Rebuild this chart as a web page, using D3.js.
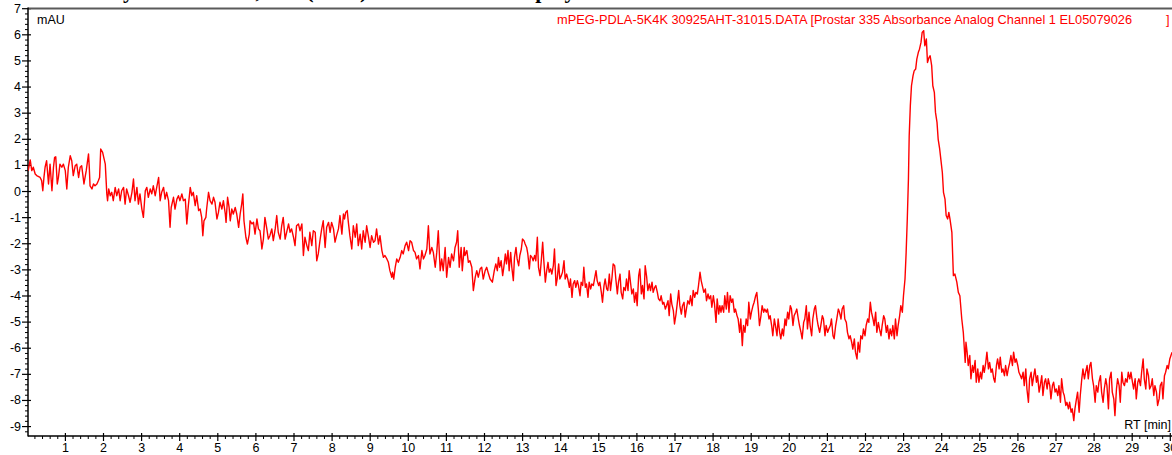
<!DOCTYPE html>
<html lang="en">
<head>
<meta charset="UTF-8">
<title>mPEG-PDLA-5K4K chromatogram</title>
<script src="https://d3js.org/d3.v7.min.js"></script>
<style>
  body { margin: 0; background: #fff; }
  svg { display: block; font-family: "Liberation Sans", Arial, sans-serif; }
  .tick text { font-size: 12.5px; fill: #000; }
</style>
</head>
<body>
<div id="chart"></div>
<script>
// page heading (mostly cut off above the chart)
const heading = "UV Analysis at 335 nm, run (GPC) results for the Copolymer";
const traceLabel = "mPEG-PDLA-5K4K 30925AHT-31015.DATA [Prostar 335 Absorbance Analog Channel 1 EL05079026";
const yUnit = "mAU";
const xUnit = "RT [min]";

const xMajor = d3.range(1, 31);
const yMajor = d3.range(-9, 8);

// [retention time (min), absorbance (mAU)]
const trace = [
  [0.00,0.97],[0.04,0.80],[0.09,1.19],[0.13,0.78],[0.17,0.91],[0.22,0.65],[0.26,0.59],[0.35,0.52],[0.39,0.40],[0.42,0.01],
  [0.45,0.52],[0.48,0.91],[0.52,1.16],[0.57,0.27],[0.61,1.03],[0.66,0.01],[0.70,0.91],[0.73,1.29],[0.76,1.31],[0.80,0.27],
  [0.83,0.52],[0.87,1.03],[0.92,0.91],[0.96,1.03],[1.01,0.78],[1.05,0.08],[1.09,0.91],[1.14,1.35],[1.18,1.16],[1.22,0.59],
  [1.27,0.97],[1.31,1.03],[1.36,0.52],[1.40,0.91],[1.44,0.97],[1.49,0.40],[1.50,0.27],[1.56,0.78],[1.62,1.42],[1.64,0.91],
  [1.66,0.20],[1.71,0.08],[1.75,0.27],[1.79,0.20],[1.84,0.27],[1.88,0.40],[1.91,0.52],[1.94,1.61],[1.99,1.48],[2.03,1.22],
  [2.06,1.03],[2.10,-0.11],[2.12,-0.37],[2.15,0.08],[2.19,-0.18],[2.23,-0.05],[2.27,-0.37],[2.32,0.14],[2.36,-0.18],[2.41,0.08],
  [2.45,-0.37],[2.49,0.01],[2.54,0.14],[2.58,-0.50],[2.62,0.08],[2.67,-0.18],[2.71,-0.43],[2.76,-0.05],[2.80,0.46],[2.84,-0.37],
  [2.89,0.14],[2.93,-0.50],[2.97,-0.11],[3.02,-0.69],[3.06,-1.01],[3.11,0.01],[3.15,0.14],[3.19,-0.24],[3.24,0.08],[3.28,-0.11],
  [3.32,0.20],[3.37,-0.18],[3.41,0.14],[3.46,0.52],[3.50,-0.37],[3.54,-0.05],[3.59,0.14],[3.63,-0.31],[3.67,-0.05],[3.72,-0.37],
  [3.76,-1.39],[3.79,-0.63],[3.85,-0.24],[3.89,-0.69],[3.94,-0.31],[3.98,-0.18],[4.02,-0.37],[4.07,-0.11],[4.11,-0.37],[4.16,-0.31],
  [4.20,-1.26],[4.24,-0.56],[4.29,0.14],[4.33,-0.18],[4.37,-0.05],[4.42,-0.56],[4.46,-0.18],[4.51,-0.75],[4.55,-0.69],[4.59,-1.01],
  [4.62,-1.71],[4.65,-1.14],[4.70,-1.01],[4.72,-0.69],[4.77,-0.05],[4.81,-0.37],[4.86,-0.50],[4.90,-0.24],[4.94,-0.43],[4.99,-1.07],
  [5.03,-0.82],[5.07,-0.43],[5.12,-0.69],[5.16,-0.37],[5.21,-0.88],[5.23,-1.20],[5.27,-0.24],[5.31,-0.63],[5.34,-1.14],[5.38,-0.69],
  [5.42,-0.88],[5.47,-0.63],[5.51,-0.88],[5.56,-1.39],[5.60,-0.88],[5.64,-0.50],[5.67,-0.11],[5.70,-1.14],[5.75,-1.77],[5.79,-2.03],
  [5.84,-1.65],[5.86,-1.14],[5.91,-1.26],[5.95,-1.20],[5.99,-1.65],[6.04,-1.07],[6.08,-1.45],[6.12,-1.52],[6.15,-1.90],
  [6.17,-2.22],[6.21,-1.84],[6.25,-1.01],[6.30,-1.45],[6.34,-1.84],[6.38,-1.71],[6.43,-1.45],[6.47,-1.90],[6.52,-1.45],[6.56,-0.94],
  [6.60,-1.58],[6.65,-1.84],[6.69,-1.33],[6.73,-1.01],[6.78,-1.84],[6.82,-1.58],[6.87,-1.26],[6.91,-1.58],[6.95,-1.45],[7.00,-1.77],
  [7.04,-2.09],[7.08,-1.33],[7.13,-1.26],[7.17,-1.52],[7.22,-1.26],[7.26,-2.47],[7.30,-1.77],[7.35,-2.09],[7.39,-2.28],[7.43,-1.58],
  [7.48,-2.09],[7.52,-1.52],[7.57,-1.58],[7.61,-2.67],[7.65,-2.41],[7.70,-1.84],[7.74,-1.45],[7.78,-1.14],[7.83,-2.16],[7.87,-1.39],
  [7.92,-1.20],[7.96,-1.58],[8.00,-1.20],[8.05,-1.45],[8.09,-1.96],[8.13,-1.71],[8.18,-1.45],[8.22,-0.94],[8.27,-1.65],[8.31,-0.88],
  [8.34,-1.07],[8.37,-0.82],[8.41,-0.75],[8.44,-1.20],[8.48,-1.71],[8.53,-2.22],[8.57,-1.33],[8.62,-1.77],[8.66,-1.26],[8.70,-2.09],
  [8.75,-1.65],[8.79,-2.22],[8.83,-1.52],[8.88,-1.96],[8.92,-1.33],[8.97,-1.77],[9.01,-2.16],[9.05,-1.71],[9.10,-1.96],[9.14,-1.90],
  [9.18,-1.45],[9.23,-2.03],[9.27,-1.71],[9.32,-2.28],[9.36,-2.54],[9.40,-2.47],[9.45,-2.60],[9.49,-2.73],[9.53,-3.05],[9.58,-3.30],
  [9.60,-3.11],[9.63,-3.37],[9.67,-2.92],[9.71,-2.60],[9.75,-2.73],[9.80,-2.54],[9.84,-2.28],[9.88,-2.41],[9.93,-2.09],[9.97,-1.96],
  [10.02,-2.28],[10.06,-1.90],[10.10,-1.96],[10.15,-2.28],[10.19,-2.35],[10.23,-2.60],[10.28,-2.47],[10.32,-2.98],[10.37,-2.28],[10.41,-2.60],
  [10.45,-2.47],[10.50,-2.22],[10.54,-1.33],[10.58,-2.41],[10.63,-2.16],[10.67,-2.35],[10.72,-2.92],[10.76,-2.35],[10.80,-1.52],[10.85,-3.05],
  [10.89,-2.60],[10.93,-3.05],[10.98,-2.16],[11.02,-3.30],[11.07,-2.54],[11.11,-2.92],[11.15,-2.41],[11.20,-2.67],[11.24,-2.16],[11.28,-1.96],
  [11.31,-1.52],[11.35,-2.92],[11.40,-2.16],[11.43,-3.05],[11.48,-2.16],[11.50,-2.47],[11.55,-2.28],[11.59,-2.73],[11.63,-2.67],[11.68,-2.92],
  [11.72,-3.81],[11.77,-3.30],[11.81,-3.05],[11.85,-3.30],[11.90,-2.98],[11.94,-2.92],[11.98,-3.37],[12.03,-3.05],[12.07,-2.92],[12.12,-3.18],
  [12.16,-3.37],
  [12.22,-3.49],[12.27,-3.05],[12.31,-2.79],[12.35,-3.05],[12.38,-2.54],[12.41,-2.92],[12.45,-2.67],[12.49,-3.24],[12.52,-2.92],[12.56,-2.41],
  [12.59,-2.79],[12.63,-2.28],[12.66,-3.05],[12.70,-2.35],[12.73,-2.92],[12.77,-3.43],[12.80,-2.54],[12.84,-2.16],[12.87,-2.60],[12.91,-2.86],
  [12.94,-2.47],[12.98,-2.22],[13.01,-1.84],[13.05,-1.90],[13.08,-2.03],[13.12,-2.16],[13.15,-2.41],[13.19,-2.98],[13.22,-2.47],[13.26,-2.54],
  [13.29,-2.67],[13.33,-2.47],[13.36,-2.67],[13.40,-1.77],[13.43,-2.92],[13.47,-3.24],[13.50,-2.73],[13.54,-1.96],[13.57,-2.67],[13.61,-3.49],
  [13.64,-3.11],[13.68,-2.73],[13.71,-3.11],[13.75,-2.98],[13.78,-3.18],[13.82,-2.86],[13.85,-2.22],[13.89,-3.62],[13.92,-3.37],[13.96,-2.79],
  [13.99,-3.37],[14.03,-3.24],[14.06,-3.11],[14.10,-2.67],[14.13,-3.37],[14.17,-3.18],[14.20,-3.37],[14.24,-3.69],[14.27,-3.37],[14.31,-4.07],
  [14.34,-3.56],[14.38,-3.43],[14.41,-3.69],[14.45,-3.43],[14.48,-3.62],[14.52,-4.01],[14.55,-3.49],[14.59,-3.62],[14.62,-2.92],[14.66,-3.69],
  [14.69,-3.56],[14.73,-4.07],[14.76,-3.49],[14.80,-3.75],[14.83,-3.56],[14.87,-3.62],[14.90,-3.37],[14.94,-3.05],[14.97,-3.43],[15.01,-3.62],
  [15.04,-3.49],[15.08,-3.88],[15.11,-4.26],[15.15,-3.62],[15.18,-3.37],[15.22,-3.75],[15.25,-3.81],[15.29,-3.18],[15.32,-3.81],[15.36,-3.30],
  [15.39,-2.79],[15.43,-2.86],[15.46,-3.37],[15.50,-3.94],[15.53,-3.49],[15.57,-3.18],[15.60,-3.88],[15.64,-4.13],[15.67,-3.69],[15.71,-3.81],
  [15.74,-3.37],[15.78,-3.81],[15.81,-3.05],[15.85,-3.56],[15.88,-3.94],[15.92,-3.75],[15.95,-4.26],[15.99,-3.88],[16.02,-4.39],[16.06,-3.24],
  [16.09,-2.98],[16.13,-3.94],[16.16,-3.62],[16.20,-4.13],[16.23,-2.86],[16.27,-3.30],[16.30,-3.81],[16.34,-3.56],[16.37,-3.81],[16.41,-3.49],
  [16.44,-3.88],[16.48,-3.69],[16.51,-3.62],[16.55,-3.88],[16.58,-4.13],[16.62,-4.20],[16.65,-4.01],[16.69,-4.33],[16.72,-4.26],[16.76,-4.52],
  [16.79,-4.39],[16.83,-4.20],[16.86,-4.77],[16.90,-3.94],[16.93,-4.33],[16.97,-4.58],[17.00,-5.09],[17.04,-4.71],[17.07,-4.33],[17.11,-3.81],
  [17.14,-4.39],[17.18,-4.71],[17.21,-4.39],[17.25,-4.26],[17.28,-4.83],[17.32,-4.45],[17.35,-4.20],[17.39,-4.33],[17.42,-4.01],[17.46,-4.39],
  [17.49,-3.81],[17.53,-4.07],[17.56,-3.88],[17.60,-3.94],[17.63,-3.62],[17.67,-3.11],[17.70,-3.43],[17.73,-3.62],[17.77,-3.88],[17.81,-3.75],
  [17.84,-4.20],[17.88,-3.94],[17.91,-4.13],[17.95,-4.01],[17.98,-4.45],[18.02,-4.01],[18.05,-4.33],[18.09,-5.03],[18.12,-4.13],[18.16,-4.71],
  [18.19,-4.39],
  [18.22,-4.64],[18.25,-4.39],[18.29,-4.64],[18.32,-4.01],[18.36,-4.52],[18.39,-3.88],[18.43,-4.64],[18.46,-4.01],[18.50,-4.26],[18.53,-4.13],
  [18.57,-4.64],[18.60,-4.52],[18.64,-4.77],[18.67,-4.90],[18.71,-5.41],[18.74,-4.90],[18.78,-5.92],[18.81,-5.15],[18.85,-5.41],[18.88,-4.90],
  [18.92,-5.15],[18.95,-4.26],[18.99,-4.90],[19.02,-4.64],[19.06,-4.39],[19.09,-4.26],[19.13,-4.01],[19.16,-3.88],[19.20,-4.52],[19.23,-5.15],
  [19.27,-4.77],[19.30,-4.39],[19.34,-4.64],[19.37,-4.52],[19.41,-4.64],[19.44,-4.52],[19.48,-4.90],[19.51,-4.77],[19.55,-5.15],[19.58,-5.54],
  [19.62,-4.90],[19.65,-5.15],[19.69,-5.54],[19.72,-4.90],[19.76,-5.41],[19.79,-5.66],[19.83,-5.28],[19.86,-5.54],[19.90,-4.90],[19.93,-5.15],
  [19.97,-4.64],[20.00,-4.90],[20.04,-4.39],[20.07,-4.52],[20.11,-5.15],[20.14,-4.77],[20.18,-4.64],[20.21,-4.52],[20.25,-4.90],[20.28,-5.15],
  [20.32,-5.41],[20.35,-5.66],[20.39,-5.03],[20.42,-4.90],[20.46,-4.39],[20.49,-5.28],[20.53,-4.64],[20.56,-5.15],[20.60,-5.54],[20.63,-4.90],
  [20.67,-4.52],[20.70,-4.39],[20.74,-4.90],[20.77,-5.15],[20.81,-5.41],[20.84,-5.15],[20.88,-4.77],[20.91,-4.90],[20.95,-5.54],[20.98,-5.15],
  [21.02,-5.41],[21.05,-5.28],[21.09,-5.15],[21.12,-4.90],[21.16,-5.54],[21.19,-5.66],[21.23,-5.15],[21.26,-4.90],[21.30,-4.52],[21.33,-4.64],
  [21.37,-4.90],[21.40,-4.52],[21.44,-4.39],[21.47,-4.90],[21.51,-5.03],[21.54,-5.41],[21.58,-5.66],[21.61,-5.54],[21.65,-5.79],[21.68,-6.05],
  [21.72,-5.66],[21.75,-6.17],[21.79,-6.43],[21.82,-5.79],[21.86,-6.17],[21.89,-5.54],[21.93,-5.66],[21.96,-5.28],[22.00,-5.54],[22.03,-5.15],
  [22.07,-4.90],[22.10,-5.03],[22.14,-4.26],[22.17,-4.64],[22.21,-4.90],[22.24,-5.15],[22.28,-4.64],[22.31,-5.41],[22.35,-5.03],[22.38,-5.28],
  [22.42,-5.54],[22.45,-5.15],[22.49,-4.77],[22.52,-4.90],[22.56,-5.41],[22.59,-5.15],[22.63,-5.66],[22.66,-5.28],[22.70,-5.54],[22.73,-5.15],
  [22.77,-5.66],[22.80,-4.90],[22.84,-5.54],[22.87,-5.15],[22.91,-4.77],[22.94,-4.39],[22.98,-4.64],[23.01,-4.01],[23.05,-3.37],[23.08,-2.35],
  [23.11,-1.07],[23.14,0.46],[23.16,2.12],[23.19,3.27],[23.22,4.03],[23.26,4.41],[23.29,4.60],[23.33,4.67],[23.36,5.05],[23.40,5.31],
  [23.43,5.43],[23.47,5.69],[23.50,6.07],[23.54,6.14],[23.57,5.56],[23.61,5.82],[23.64,4.92],[23.68,5.11],[23.71,5.18],[23.75,4.80],
  [23.78,4.03],[23.82,3.78],[23.85,3.01],[23.89,2.63],[23.92,1.99],[23.96,1.61],[23.99,1.22],[24.03,0.71],[24.06,-0.05],[24.10,-0.31],
  [24.13,-0.94],[24.17,-1.07],[24.20,-0.82],
  [24.23,-1.07],[24.28,-1.58],[24.32,-3.24],[24.36,-3.18],[24.41,-3.49],[24.45,-3.88],[24.49,-4.01],[24.54,-4.90],[24.58,-5.41],[24.63,-6.56],
  [24.65,-5.79],[24.68,-6.17],[24.71,-6.68],[24.75,-6.30],[24.78,-7.19],[24.82,-6.68],[24.85,-6.94],[24.89,-6.49],[24.92,-7.32],[24.96,-6.81],
  [24.99,-7.32],[25.03,-6.94],[25.06,-7.19],[25.10,-6.68],[25.13,-6.94],[25.17,-6.56],[25.20,-6.17],[25.24,-6.81],[25.27,-6.56],[25.31,-6.94],
  [25.34,-6.81],[25.38,-7.19],[25.41,-7.32],[25.45,-6.68],[25.48,-6.43],[25.52,-6.81],[25.55,-6.36],[25.59,-6.94],[25.62,-6.81],[25.66,-7.07],
  [25.69,-6.68],[25.73,-7.07],[25.76,-6.81],[25.80,-6.56],[25.83,-6.30],[25.87,-6.68],[25.90,-6.17],[25.94,-6.56],[25.97,-6.43],[26.01,-6.68],
  [26.04,-6.94],[26.08,-7.07],[26.11,-7.19],[26.15,-6.94],[26.18,-7.45],[26.22,-6.81],[26.25,-7.58],[26.29,-8.09],[26.32,-7.19],[26.36,-6.94],
  [26.39,-7.45],[26.43,-7.07],[26.46,-6.81],[26.50,-7.32],[26.53,-7.07],[26.57,-7.70],[26.60,-7.45],[26.64,-7.07],[26.67,-7.83],[26.71,-7.32],
  [26.74,-7.19],[26.78,-7.58],[26.81,-7.19],[26.85,-7.45],[26.88,-7.96],[26.92,-7.45],[26.95,-7.32],[26.99,-7.70],[27.02,-7.58],[27.06,-7.83],
  [27.09,-7.45],[27.13,-8.09],[27.16,-7.19],[27.20,-7.70],[27.23,-7.83],[27.27,-8.21],[27.30,-8.09],[27.34,-8.34],[27.37,-8.09],[27.41,-8.47],
  [27.44,-8.34],[27.48,-8.79],[27.51,-8.34],[27.55,-7.96],[27.58,-7.70],[27.62,-8.47],[27.65,-7.83],[27.69,-7.19],[27.72,-6.81],[27.76,-7.19],
  [27.79,-6.94],[27.83,-6.68],[27.86,-7.19],[27.90,-6.68],[27.93,-6.56],[27.97,-7.19],[28.00,-7.45],[28.04,-8.09],[28.07,-7.45],[28.11,-7.70],
  [28.14,-7.32],[28.18,-7.07],[28.21,-7.70],[28.25,-8.09],[28.28,-7.58],[28.32,-7.19],[28.35,-7.45],[28.39,-8.34],[28.42,-7.19],[28.46,-6.94],
  [28.49,-7.70],[28.53,-7.96],[28.56,-8.60],[28.60,-7.58],[28.63,-7.19],[28.67,-7.45],[28.70,-8.09],[28.74,-6.94],[28.77,-7.32],[28.81,-7.45],
  [28.84,-7.19],[28.88,-7.32],[28.91,-6.94],[28.95,-7.19],[28.98,-6.94],[29.02,-7.32],[29.05,-7.58],[29.09,-7.19],[29.12,-7.96],[29.16,-7.32],
  [29.19,-7.19],[29.23,-7.45],[29.26,-6.94],[29.30,-6.43],[29.33,-7.19],[29.37,-7.58],[29.40,-6.81],[29.44,-7.07],[29.47,-7.58],[29.51,-7.45],
  [29.54,-7.19],[29.58,-7.83],[29.61,-7.45],[29.65,-7.70],[29.68,-8.21],[29.72,-7.96],[29.75,-7.45],[29.79,-7.32],[29.82,-7.96],[29.86,-7.07],
  [29.89,-6.94],[29.93,-6.68],[29.96,-6.81],[30.00,-6.43],[30.03,-6.30],[30.06,-6.17]
];

const width = 1172, height = 455;
const axisX = 28, axisY = 436, topY = 8.5;

const x = d3.scaleLinear().domain([0, 30]).range([26.8, 1169.8]);
const y = d3.scaleLinear().domain([-9.38, 7]).range([436, 8.2]);

const svg = d3.select("#chart").append("svg")
  .attr("width", width)
  .attr("height", height)
  .style("background", "#fff");

// heading of the page, only its lowest part is visible
svg.append("text")
  .attr("x", 42)
  .attr("y", -2.5)
  .style("font-family", "'Liberation Serif', 'Times New Roman', serif")
  .style("font-weight", "bold")
  .style("font-size", "22px")
  .text(heading);

svg.append("defs").append("clipPath")
  .attr("id", "plot-clip")
  .append("rect")
  .attr("x", axisX).attr("y", 0)
  .attr("width", width - axisX).attr("height", axisY);

// minor ticks (every 0.2)
const xMinor = d3.range(1, 151).map(i => i / 5).filter(v => v % 1 !== 0);
const yMinor = d3.range(-46, 36).map(i => i / 5).filter(v => v % 1 !== 0);

svg.append("g")
  .attr("transform", `translate(0,${axisY})`)
  .call(d3.axisBottom(x).tickValues(xMinor).tickSize(3).tickFormat(""))
  .call(g => g.select(".domain").remove())
  .selectAll("line").attr("stroke", "#000");

svg.append("g")
  .attr("transform", `translate(${axisX},0)`)
  .call(d3.axisLeft(y).tickValues(yMinor).tickSize(3).tickFormat(""))
  .call(g => g.select(".domain").remove())
  .selectAll("line").attr("stroke", "#000");

// major ticks
const xAxis = svg.append("g")
  .attr("transform", `translate(0,${axisY})`)
  .call(d3.axisBottom(x).tickValues(xMajor).tickSize(5).tickPadding(2).tickFormat(d => String(d)))
  .call(g => g.select(".domain").remove());
xAxis.selectAll(".tick line").attr("y1", -3).attr("stroke", "#000").attr("stroke-width", 1.2);
xAxis.selectAll(".tick text").style("font-size", "12.5px");

const yAxis = svg.append("g")
  .attr("transform", `translate(${axisX},0)`)
  .call(d3.axisLeft(y).tickValues(yMajor).tickSize(6).tickPadding(1).tickFormat(d => String(d)))
  .call(g => g.select(".domain").remove());
yAxis.selectAll(".tick line").attr("x1", 3).attr("stroke", "#000").attr("stroke-width", 1.2);
yAxis.selectAll(".tick text").style("font-size", "12.5px");

// frame lines
svg.append("line")
  .attr("x1", axisX).attr("x2", width)
  .attr("y1", topY).attr("y2", topY)
  .attr("stroke", "#5a5a5a").attr("stroke-width", 2);

svg.append("line")
  .attr("x1", axisX).attr("x2", axisX)
  .attr("y1", topY - 1).attr("y2", axisY + 0.5)
  .attr("stroke", "#000").attr("stroke-width", 1.5);

svg.append("line")
  .attr("x1", axisX).attr("x2", width)
  .attr("y1", axisY).attr("y2", axisY)
  .attr("stroke", "#000").attr("stroke-width", 1.5);

// trace
const line = d3.line()
  .x(d => x(d[0]))
  .y(d => y(d[1]));

svg.append("path")
  .datum(trace)
  .attr("clip-path", "url(#plot-clip)")
  .attr("fill", "none")
  .attr("stroke", "#ff0000")
  .attr("stroke-width", 1.4)
  .attr("stroke-linejoin", "round")
  .attr("d", line);

// labels
svg.append("text")
  .attr("x", 37).attr("y", 24)
  .style("font-size", "12.5px")
  .text(yUnit);

svg.append("text")
  .attr("x", width - 1).attr("y", 429)
  .attr("text-anchor", "end")
  .style("font-size", "12.5px")
  .text(xUnit);

svg.append("text")
  .attr("x", 557).attr("y", 24)
  .attr("fill", "#ff0000")
  .style("font-size", "12.8px")
  .text(traceLabel);

svg.append("text")
  .attr("x", 1166).attr("y", 24)
  .attr("fill", "#ff0000")
  .style("font-size", "12.8px")
  .text("]");
</script>
</body>
</html>
